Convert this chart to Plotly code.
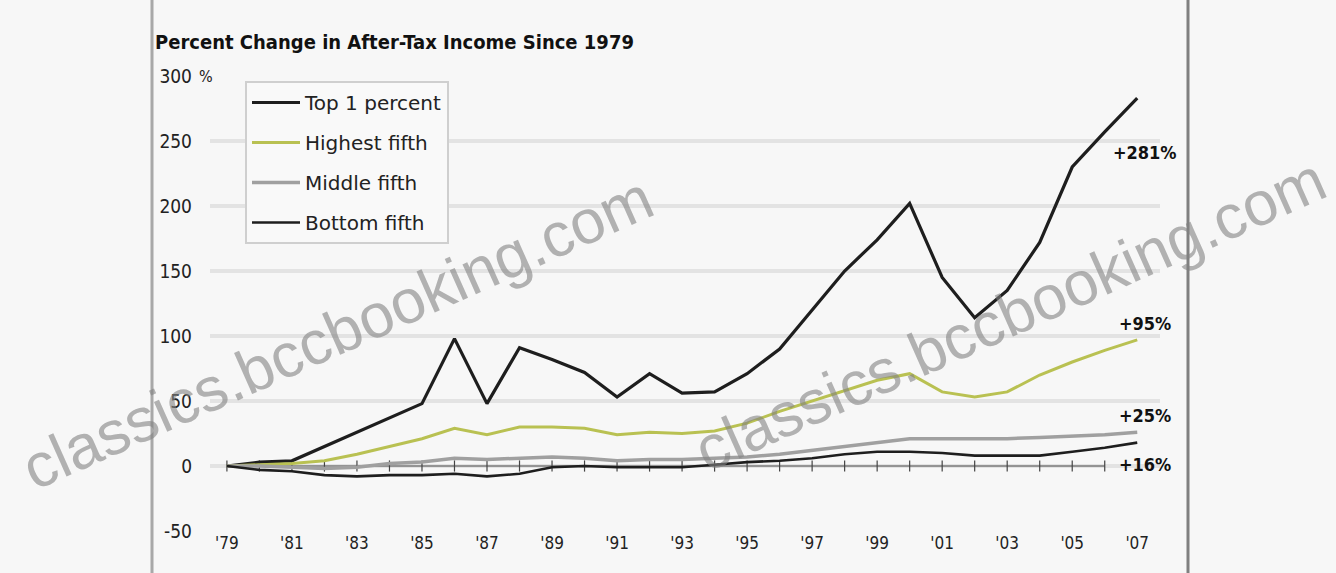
import plotly.graph_objects as go

years = list(range(1979, 2008))
top1 = [0, 3, 4, 15, 26, 37, 48, 98, 48, 91, 82, 72, 53, 71, 56, 57, 71, 90, 120,
        150, 174, 202, 145, 114, 135, 172, 230, 257, 283]
highest = [0, 1, 2, 4, 9, 15, 21, 29, 24, 30, 30, 29, 24, 26, 25, 27, 33, 42, 50,
           58, 66, 71, 57, 53, 57, 70, 80, 89, 97]
middle = [0, 0, -1, -2, -1, 2, 3, 6, 5, 6, 7, 6, 4, 5, 5, 6, 7, 9, 12,
          15, 18, 21, 21, 21, 21, 22, 23, 24, 26]
bottom = [0, -3, -4, -7, -8, -7, -7, -6, -8, -6, -1, 0, -1, -1, -1, 1, 3, 4, 6,
          9, 11, 11, 10, 8, 8, 8, 11, 14, 18]
series_names = ["Top 1 percent", "Highest fifth", "Middle fifth", "Bottom fifth"]
series_colors = ["#1e1e1e", "#b9c152", "#a0a0a0", "#1e1e1e"]
end_labels = ["+281%", "+95%", "+25%", "+16%"]
end_label_y = [241, 110, 39, 1]
x_tick_years = list(range(1979, 2008, 2))
x_tick_text = ["'" + str(y)[2:] for y in x_tick_years]
y_tick_vals = [-50, 0, 50, 100, 150, 200, 250, 300]
y_tick_text = ["-50", "0", "50", "100", "150", "200", "250", "300"]
y_unit = "%"

FONT = "DejaVu Sans Condensed, Liberation Sans Narrow, Arial, sans-serif"
BG = "#f7f7f7"

fig = go.Figure()

# zero baseline with year ticks
fig.add_trace(go.Scatter(
    x=years[:-1], y=[0] * (len(years) - 1), mode="lines+markers",
    line=dict(color="#444444", width=1),
    marker=dict(symbol="line-ns", size=8, line=dict(color="#444444", width=1.2)),
    showlegend=False, hoverinfo="skip"))

data = [top1, highest, middle, bottom]
widths = [3.2, 3, 3.5, 2.6]
for i, (name, vals) in enumerate(zip(series_names, data)):
    fig.add_trace(go.Scatter(
        x=years, y=vals, mode="lines", name=name,
        line=dict(color=series_colors[i], width=widths[i]),
        legendgroup=name, legendrank=i + 1))

for lab, yv in zip(end_labels, end_label_y):
    fig.add_annotation(x=2007.25, y=yv, text="<b>" + lab + "</b>", showarrow=False,
                       xanchor="center", yanchor="middle",
                       font=dict(family=FONT, size=18, color="#111111"))

# unit after the top tick label
fig.add_annotation(xref="paper", yref="y", x=(197 - 210) / 950, y=y_tick_vals[-1],
                   text=y_unit, showarrow=False, xanchor="left", yanchor="middle",
                   font=dict(family=FONT, size=16, color="#222222"))

# watermarks
for wx, wy in [(0.134, 0.437), (0.842, 0.475)]:
    fig.add_annotation(xref="paper", yref="paper", x=wx, y=wy,
                       xanchor="center", yanchor="middle",
                       text="classics.bccbooking.com", showarrow=False,
                       textangle=-24,
                       font=dict(family="Liberation Sans, Arial, sans-serif", size=62,
                                 color="rgba(130,130,130,0.6)"))

# frame lines
fig.add_shape(type="line", xref="paper", yref="paper",
              x0=(152 - 210) / 950, x1=(152 - 210) / 950, y0=-0.1, y1=1.2,
              line=dict(color="#a8a8a8", width=3))
fig.add_shape(type="line", xref="paper", yref="paper",
              x0=(1188 - 210) / 950, x1=(1188 - 210) / 950, y0=-0.1, y1=1.2,
              line=dict(color="#808080", width=3))

fig.update_layout(
    width=1336, height=573,
    margin=dict(l=210, r=176, t=76, b=42),
    paper_bgcolor=BG, plot_bgcolor=BG,
    title=dict(text="<b>Percent Change in After-Tax Income Since 1979</b>",
               x=155 / 1336, xanchor="left", y=1 - 42 / 573, yanchor="middle",
               font=dict(family=FONT, size=20, color="#111111")),
    xaxis=dict(range=[1978.48, 2007.7], tickvals=x_tick_years, ticktext=x_tick_text,
               showgrid=False, zeroline=False, showline=False, ticks="",
               tickfont=dict(family=FONT, size=17, color="#222222")),
    yaxis=dict(range=[-50, 300], tickvals=y_tick_vals, ticktext=y_tick_text,
               showgrid=True, gridcolor="#e3e3e3", gridwidth=4, zeroline=False,
               showline=False, ticks="", ticklabelstandoff=17,
               tickfont=dict(family=FONT, size=19, color="#222222")),
    legend=dict(x=(245 - 210) / 950, y=(531 - 81) / 455, xanchor="left", yanchor="top",
                bgcolor="#f9f9f9", bordercolor="#cfcfcf", borderwidth=2,
                tracegroupgap=11, traceorder="grouped", itemwidth=48,
                font=dict(family="DejaVu Sans, sans-serif", size=20, color="#222222")),
    showlegend=True,
)

fig.write_html("out.html")
